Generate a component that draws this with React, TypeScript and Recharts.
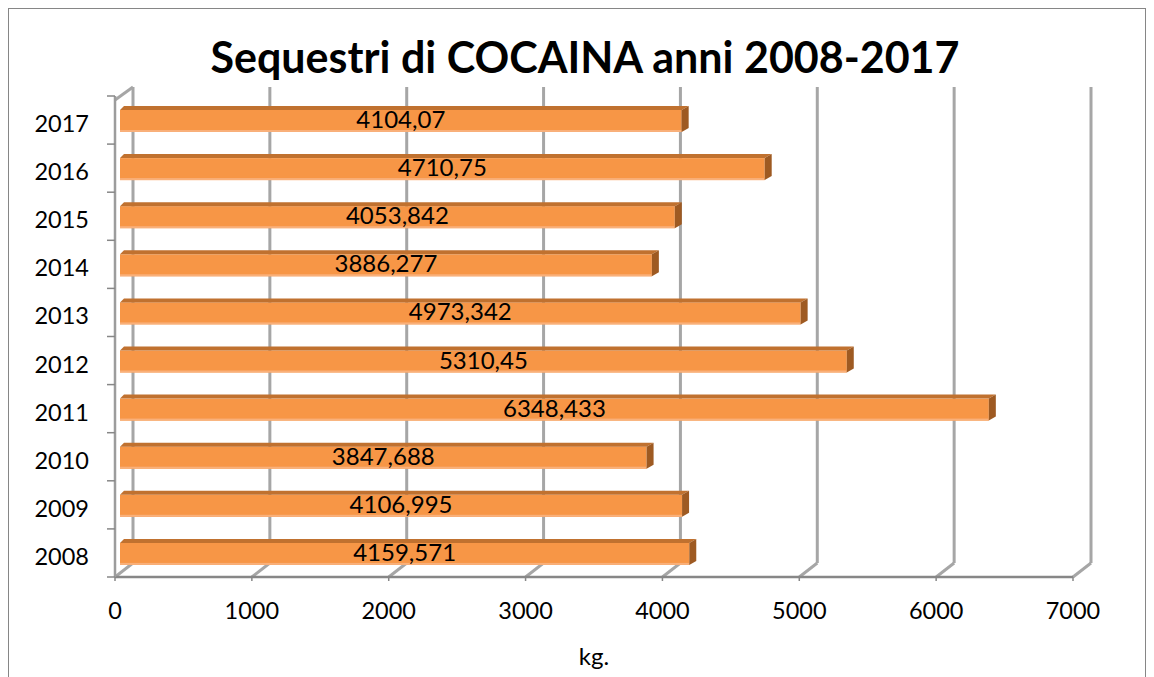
import React from 'react';
import { BarChart, Bar, XAxis, YAxis, CartesianGrid, LabelList } from 'recharts';

const years = ['2008', '2009', '2010', '2011', '2012', '2013', '2014', '2015', '2016', '2017'];
const seizedKg = [4159.571, 4106.995, 3847.688, 6348.433, 5310.45, 4973.342, 3886.277, 4053.842, 4710.75, 4104.07];
const xTicks = [0, 1000, 2000, 3000, 4000, 5000, 6000, 7000];
const title = 'Sequestri di COCAINA anni 2008-2017';
const xLabel = 'kg.';

const data = years.map((year, i) => ({ year, kg: seizedKg[i] }));

const W = 1136;
const H = 680;
const MARGIN = { top: 87, right: 72, bottom: 32, left: 0 };
const Y_AXIS_W = 106;
const X_AXIS_H = 80;
const PLOT_LEFT = MARGIN.left + Y_AXIS_W;
const PLOT_TOP = MARGIN.top;
const PLOT_BOTTOM = H - MARGIN.bottom - X_AXIS_H;
const BAND = (PLOT_BOTTOM - PLOT_TOP) / years.length;
// fake 3D depth of the back wall
const DX = 18;
const DY = 14;
const FONT = 'Lato, "Open Sans", sans-serif';
const GRID = '#A6A6A6';
const AXIS = '#878787';

const fmt = (v: number) => String(v).replace('.', ',');

// gridlines sit on the back wall, joined to the floor by a short diagonal
const backGridLine = (props: any) => {
  const { x1, index } = props;
  const bx = x1 + DX;
  return (
    <g key={`grid-${index}`}>
      <line x1={x1} y1={PLOT_BOTTOM} x2={bx} y2={PLOT_BOTTOM - DY} stroke={GRID} strokeWidth={3} />
      <line x1={bx} y1={PLOT_BOTTOM - DY} x2={bx} y2={PLOT_TOP - 9} stroke={GRID} strokeWidth={3} />
      {index === 0 && (
        <line x1={x1} y1={PLOT_TOP + 4} x2={bx} y2={PLOT_TOP - 9} stroke={GRID} strokeWidth={3} />
      )}
    </g>
  );
};

const Bar3D = (props: any) => {
  const { x, y, width, height } = props;
  const x0 = x + 5;
  const x1 = x + width + 5;
  const y0 = y - 1;
  const y1 = y + height - 1;
  const d = 4;
  const side = 7;
  return (
    <g>
      <rect x={x0} y={y0 + d} width={x1 - x0} height={y1 - y0 - d} fill="#F79646" />
      <rect x={x0} y={y1 - 2} width={x1 - x0} height={2} fill="#F9B07A" />
      <polygon
        points={`${x0},${y0 + d} ${x0 + d},${y0} ${x1 + side},${y0} ${x1},${y0 + d}`}
        fill="#C0712F"
      />
      <polygon
        points={`${x1},${y0 + d} ${x1 + side},${y0} ${x1 + side},${y1 - d} ${x1},${y1}`}
        fill="#9E5A22"
      />
    </g>
  );
};

const BarValue = (props: any) => {
  const { x, y, width, height, value } = props;
  return (
    <text
      x={x + 5 + width / 2}
      y={y + height / 2 + 8}
      textAnchor="middle"
      fontFamily={FONT}
      fontSize={24}
      fill="#000"
    >
      {fmt(value)}
    </text>
  );
};

const YearTick = (props: any) => {
  const { y, payload } = props;
  return (
    <g>
      <line x1={PLOT_LEFT - 8} y1={y - BAND / 2} x2={PLOT_LEFT} y2={y - BAND / 2} stroke={AXIS} strokeWidth={1.5} />
      {payload.value === years[0] && (
        <line x1={PLOT_LEFT - 8} y1={y + BAND / 2} x2={PLOT_LEFT} y2={y + BAND / 2} stroke={AXIS} strokeWidth={1.5} />
      )}
      <text x={PLOT_LEFT - 26} y={y + 12} textAnchor="end" fontFamily={FONT} fontSize={23.5} fill="#000">
        {payload.value}
      </text>
    </g>
  );
};

const ValueTick = (props: any) => {
  const { x, payload } = props;
  return (
    <text x={x} y={PLOT_BOTTOM + 42} textAnchor="middle" fontFamily={FONT} fontSize={23.5} fill="#000">
      {payload.value}
    </text>
  );
};

const AxisTitle = (props: any) => {
  const vb = props.viewBox;
  return (
    <text x={vb.x + vb.width / 2} y={PLOT_BOTTOM + 88} textAnchor="middle" fontFamily={FONT} fontSize={24} fill="#000">
      {xLabel}
    </text>
  );
};

export default function App() {
  return (
    <div
      style={{
        position: 'relative',
        width: W,
        height: H,
        border: '1px solid #868686',
        background: '#fff',
        fontFamily: FONT,
      }}
    >
      <BarChart width={W} height={H} data={data} layout="vertical" margin={MARGIN} barCategoryGap={0}>
        <CartesianGrid horizontal={false} vertical={backGridLine} />
        <XAxis
          type="number"
          domain={[0, 7000]}
          ticks={xTicks}
          interval={0}
          height={X_AXIS_H}
          axisLine={{ stroke: AXIS, strokeWidth: 2.5 }}
          tickLine={{ stroke: AXIS, strokeWidth: 1.5 }}
          tickSize={4}
          tick={<ValueTick />}
          label={{ content: <AxisTitle /> }}
        />
        <YAxis
          type="category"
          dataKey="year"
          reversed
          width={Y_AXIS_W}
          axisLine={{ stroke: '#9C9C9C', strokeWidth: 2.5 }}
          tickLine={false}
          tick={<YearTick />}
          interval={0}
        />
        <Bar dataKey="kg" barSize={26} shape={<Bar3D />} isAnimationActive={false}>
          <LabelList dataKey="kg" content={<BarValue />} />
        </Bar>
      </BarChart>
      <svg width={W} height={100} style={{ position: 'absolute', left: 0, top: 0, pointerEvents: 'none' }}>
        <text x={576} y={64} textAnchor="middle" fontFamily={FONT} fontWeight="bold" fontSize={43} fill="#000">
          {title}
        </text>
      </svg>
    </div>
  );
}
